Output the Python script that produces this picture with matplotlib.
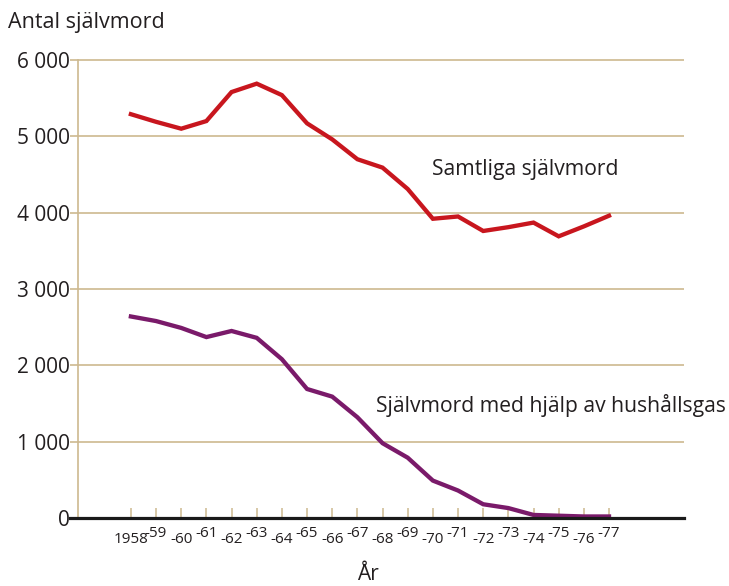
import matplotlib
matplotlib.use("Agg")
import matplotlib.pyplot as plt

plt.rcParams['font.family'] = ['Open Sans', 'DejaVu Sans']

# data
years = list(range(1958, 1978))
samtliga = [5290, 5190, 5100, 5200, 5580, 5690, 5540, 5170, 4960, 4700,
            4590, 4310, 3920, 3950, 3760, 3810, 3870, 3690, 3820, 3960]
hushallsgas = [2640, 2580, 2490, 2370, 2450, 2360, 2080, 1690, 1590, 1320,
               980, 790, 490, 360, 180, 130, 40, 30, 20, 20]
year_labels = ['1958', '-59', '-60', '-61', '-62', '-63', '-64', '-65', '-66', '-67',
               '-68', '-69', '-70', '-71', '-72', '-73', '-74', '-75', '-76', '-77']
yticks = [0, 1000, 2000, 3000, 4000, 5000, 6000]
ytick_labels = ['0', '1 000', '2 000', '3 000', '4 000', '5 000', '6 000']

RED = '#c8161e'
PURPLE = '#7a1a6a'
TAN = '#cdb98f'
TXT = '#231f20'

fig = plt.figure(figsize=(7.29, 5.86), dpi=100)
ax = fig.add_axes([70/729, 1 - 518/586, 614/729, (518 - 57.7)/586])

ax.plot(years, samtliga, color=RED, lw=3.1, solid_joinstyle='miter', zorder=3)
ax.plot(years, hushallsgas, color=PURPLE, lw=3.1, solid_joinstyle='miter', zorder=3)

ax.set_xlim(1955.58, 1979.98)
ax.set_ylim(0, 6030)

# y axis
ax.set_yticks(yticks)
ax.set_yticklabels(ytick_labels)
ax.tick_params(axis='y', length=0, pad=6, labelsize=15, labelcolor=TXT)
ax.yaxis.grid(True, color=TAN, lw=1.2)
ax.set_axisbelow(True)

# x axis: two rows of labels
ax.set_xticks(years[::2])
ax.set_xticklabels(year_labels[::2])
ax.set_xticks(years[1::2], minor=True)
ax.set_xticklabels(year_labels[1::2], minor=True)
ax.tick_params(axis='x', which='both', direction='in', length=7.2, width=1.1,
               color=TAN, labelsize=11, labelcolor=TXT)
ax.tick_params(axis='x', which='major', pad=10)
ax.tick_params(axis='x', which='minor', pad=5.5)

for s in ['top', 'right']:
    ax.spines[s].set_visible(False)
ax.spines['left'].set_position(('data', 1955.9))
ax.spines['left'].set_bounds(0, 6000)
ax.spines['left'].set_color(TAN)
ax.spines['left'].set_linewidth(1.2)
ax.spines['bottom'].set_color('#1a1a1a')
ax.spines['bottom'].set_linewidth(2.3)
ax.spines['bottom'].set_zorder(4)

ax.text(1969.95, 4494, 'Samtliga självmord', fontsize=15.2, color=TXT, va='baseline')
ax.text(1967.74, 1389, 'Självmord med hjälp av hushållsgas', fontsize=15.2,
        color=TXT, va='baseline')

fig.text(8/729, 1 - 28/586, 'Antal självmord', fontsize=15.5, color=TXT, va='baseline')
fig.text(368/729, 1 - 580/586, 'År', fontsize=15, color=TXT, ha='center', va='baseline')

fig.savefig('out.png', dpi=100)
